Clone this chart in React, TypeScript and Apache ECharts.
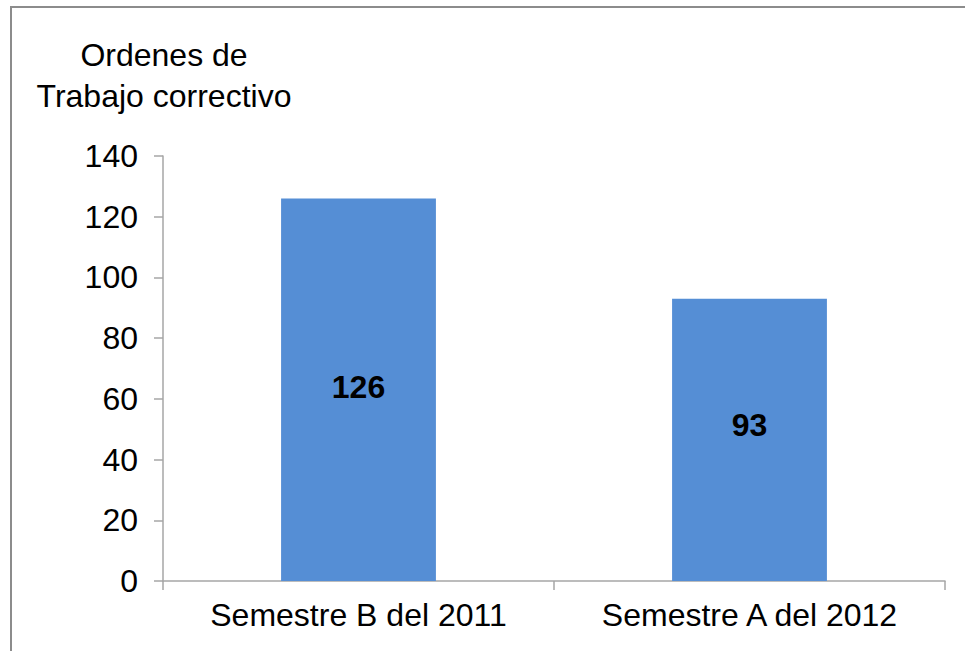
import React, { useEffect, useRef } from "react";
import * as echarts from "echarts";

const categories = ["Semestre B del 2011", "Semestre A del 2012"];
const values = [126, 93];
const yTicks = { min: 0, max: 140, interval: 20 };
const titleLines = ["Ordenes de", "Trabajo correctivo"];

const FONT = "'Liberation Sans', Arial, sans-serif";

export default function App() {
  const ref = useRef<HTMLDivElement>(null);
  useEffect(() => {
    if (!ref.current) return;
    const chart = echarts.init(ref.current, undefined, { renderer: "svg" });
    const labelShift = [-3, -15];
    chart.setOption({
      animation: false,
      backgroundColor: "#ffffff",
      grid: { left: 163, right: 20, top: 156, bottom: 70 },
      xAxis: {
        type: "category",
        data: categories,
        axisLine: { show: true, lineStyle: { color: "#a6a6a6", width: 1.5 } },
        axisTick: { show: true, length: 9, lineStyle: { color: "#a6a6a6", width: 1.5 } },
        axisLabel: { color: "#000", fontSize: 32, fontFamily: FONT, margin: 18 },
      },
      yAxis: {
        type: "value",
        min: yTicks.min,
        max: yTicks.max,
        interval: yTicks.interval,
        axisLine: { show: true, lineStyle: { color: "#a6a6a6", width: 1.5 } },
        axisTick: { show: true, length: 9, lineStyle: { color: "#a6a6a6", width: 1.5 } },
        splitLine: { show: false },
        axisLabel: { color: "#000", fontSize: 32, fontFamily: FONT, margin: 25 },
      },
      series: [
        {
          type: "bar",
          data: values.map((v, i) => ({
            value: v,
            label: { offset: [0, labelShift[i] || 0] },
          })),
          barWidth: "39.6%",
          itemStyle: { color: "#558ed5" },
          label: {
            show: true,
            position: "inside",
            color: "#000",
            fontWeight: "bold",
            fontSize: 32,
            fontFamily: FONT,
          },
        },
      ],
      graphic: [
        {
          type: "polyline",
          shape: { points: [[11, 660], [11, 7], [970, 7]] },
          style: { stroke: "#8c8c8c", lineWidth: 2, fill: "none" },
          silent: true,
        },
        ...titleLines.map((t, i) => ({
          type: "text",
          x: 164,
          y: 55 + i * 41,
          style: {
            text: t,
            fill: "#000",
            font: `32px ${FONT}`,
            textAlign: "center",
            textVerticalAlign: "middle",
          },
        })),
      ],
    });
    return () => chart.dispose();
  }, []);
  return (
    <div
      ref={ref}
      style={{ position: "fixed", left: 0, top: 0, width: 965, height: 651 }}
    />
  );
}
